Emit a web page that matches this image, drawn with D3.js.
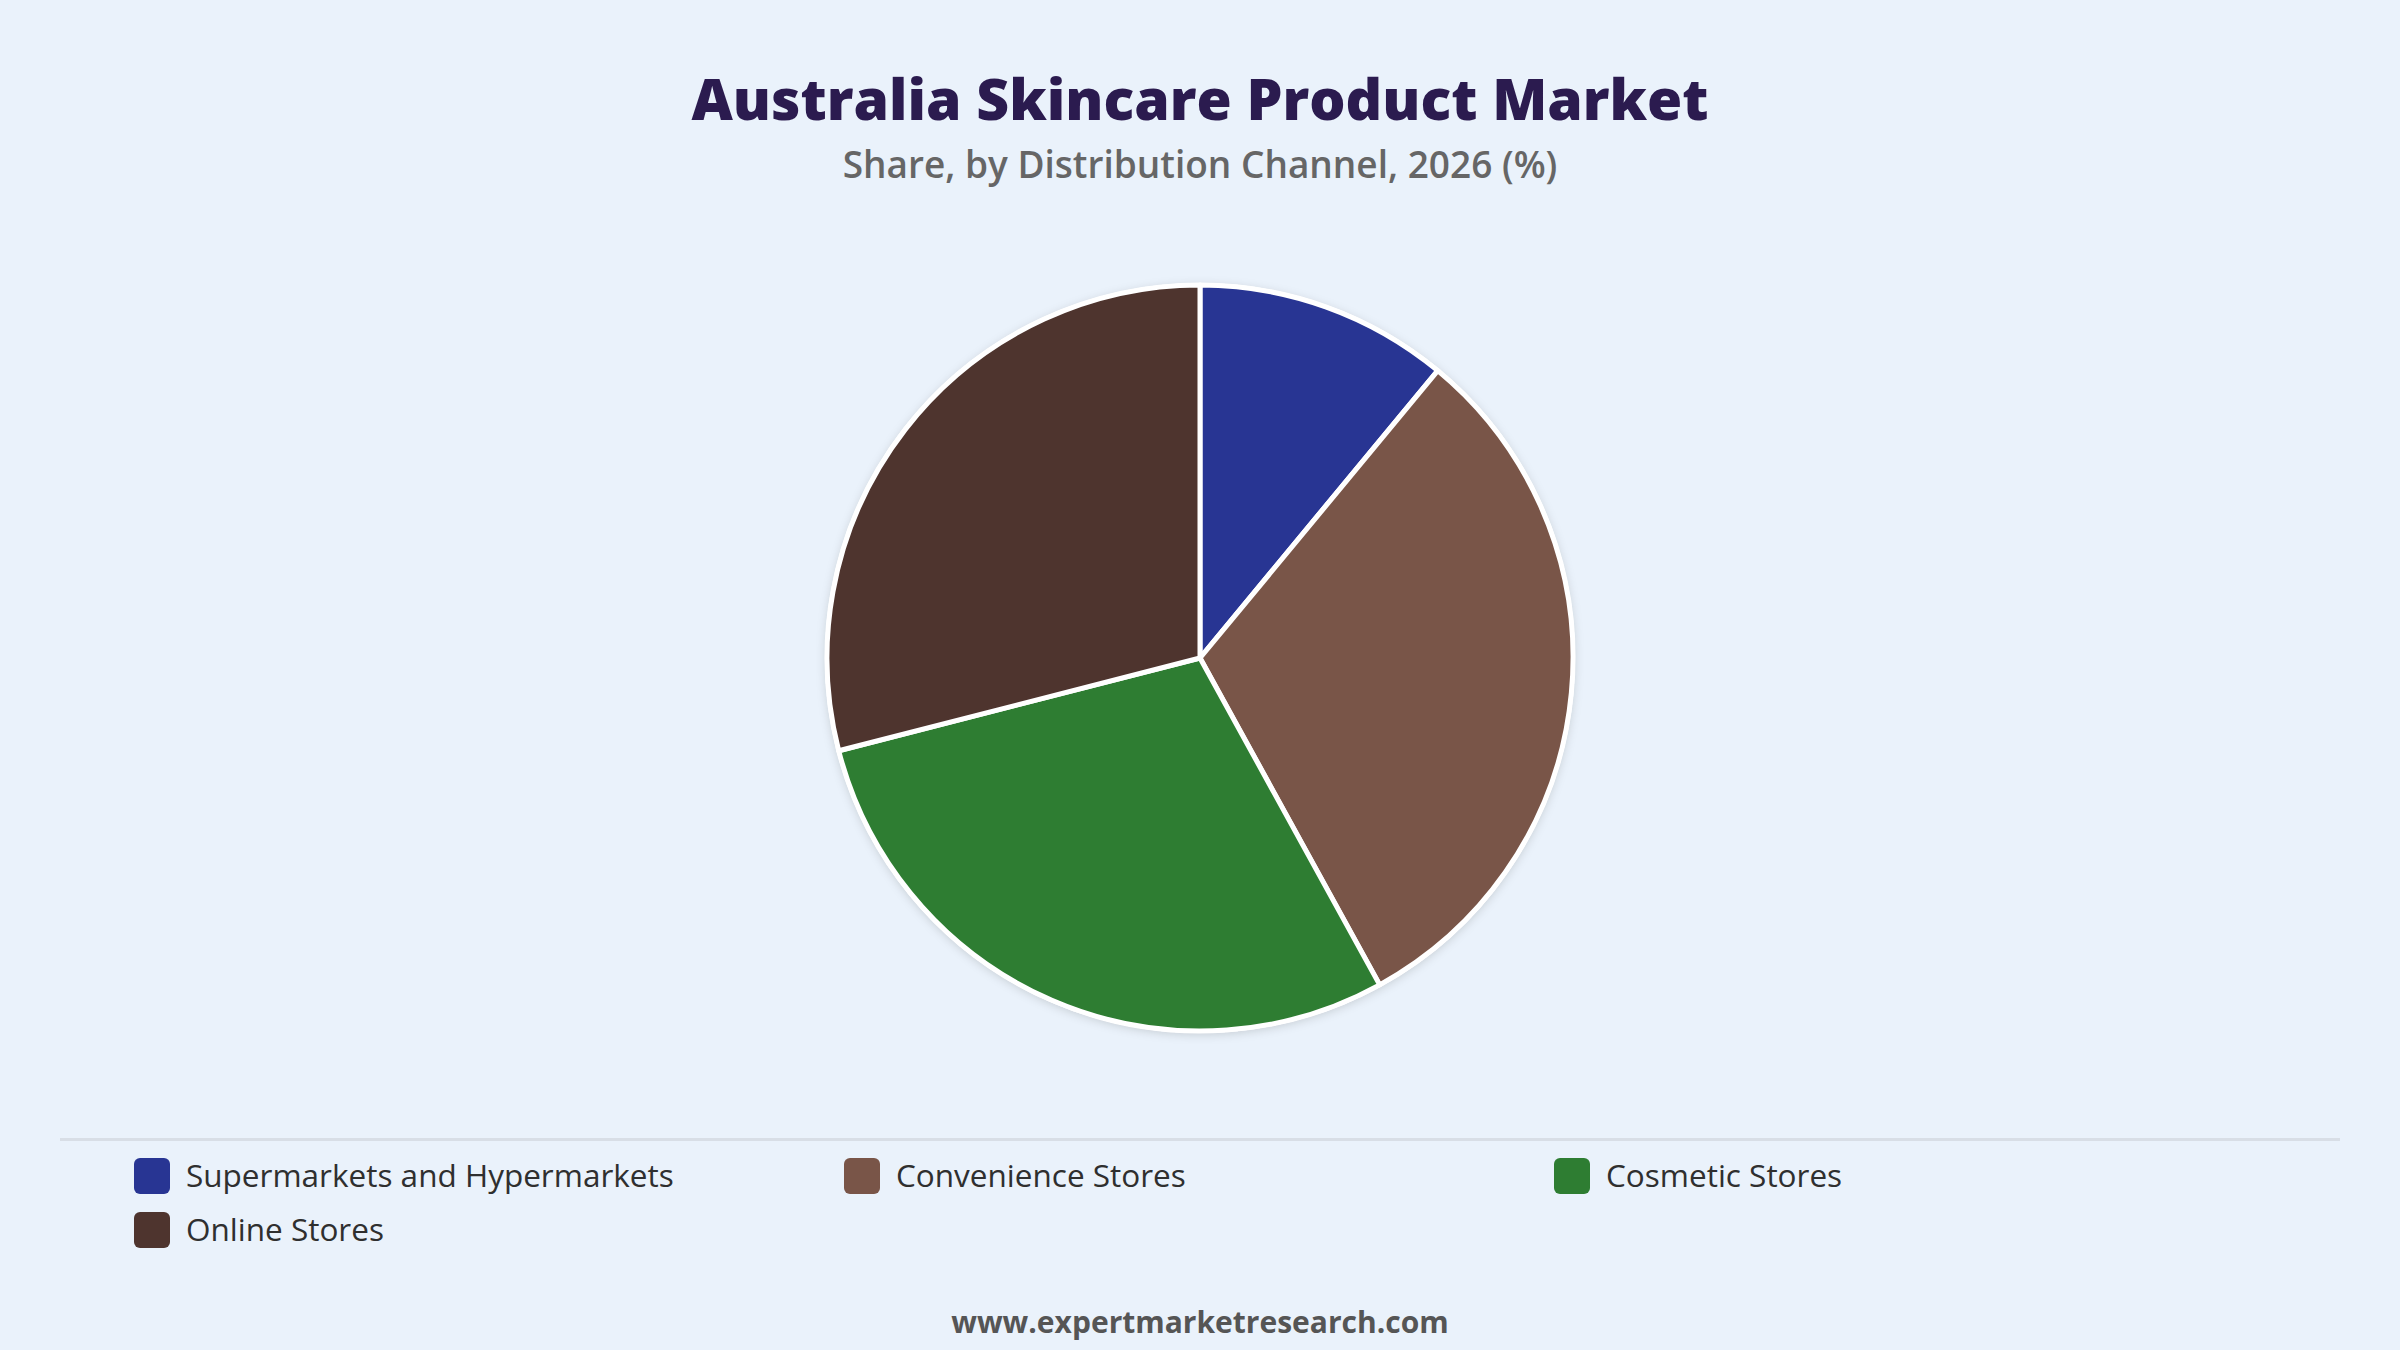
<!DOCTYPE html>
<html>
<head>
<meta charset="utf-8">
<script src="https://cdn.jsdelivr.net/npm/d3@7/dist/d3.min.js"></script>
<style>
  html, body { margin: 0; padding: 0; background: #EAF2FB; }
  svg { display: block; }
  text { font-family: "Open Sans", "Noto Sans", sans-serif; }
</style>
</head>
<body>
<svg id="chart" width="2400" height="1350"></svg>
<script>
const title = "Australia Skincare Product Market";
const subtitle = "Share, by Distribution Channel, 2026 (%)";
const footer = "www.expertmarketresearch.com";
const categories = ["Supermarkets and Hypermarkets", "Convenience Stores", "Cosmetic Stores", "Online Stores"];
const shares = [11, 31, 29, 29];
const colors = ["#283593", "#795548", "#2E7D32", "#4E342E"];

const W = 2400, H = 1350;
const svg = d3.select("#chart");

svg.append("rect").attr("width", W).attr("height", H).attr("fill", "#EAF2FB");

const defs = svg.append("defs");
const f = defs.append("filter").attr("id", "shadow").attr("x", "-20%").attr("y", "-20%").attr("width", "140%").attr("height", "140%");
f.append("feDropShadow").attr("dx", 0).attr("dy", 2).attr("stdDeviation", 5).attr("flood-color", "#000").attr("flood-opacity", 0.15);

svg.append("text").attr("x", W / 2).attr("y", 120).attr("text-anchor", "middle")
  .attr("font-size", 57).attr("font-weight", 800).attr("fill", "#2B1B4F").text(title);
svg.append("text").attr("x", W / 2).attr("y", 178).attr("text-anchor", "middle")
  .attr("font-size", 37).attr("font-weight", 600).attr("fill", "#666666").text(subtitle);

const cx = 1200, cy = 658, r = 373;
const pie = d3.pie().value(d => d).sort(null);
const arc = d3.arc().innerRadius(0).outerRadius(r);
const g = svg.append("g").attr("transform", `translate(${cx},${cy})`);
g.append("circle").attr("r", r + 2).attr("fill", "#fff").attr("filter", "url(#shadow)");
g.selectAll("path").data(pie(shares)).join("path")
  .attr("d", arc)
  .attr("fill", (d, i) => colors[i])
  .attr("stroke", "#ffffff").attr("stroke-width", 5).attr("stroke-linejoin", "round");

svg.append("line").attr("x1", 60).attr("x2", 2340).attr("y1", 1139.5).attr("y2", 1139.5)
  .attr("stroke", "#D8DEE6").attr("stroke-width", 3);

const colX = [134, 844, 1554];
const rowY = [1158, 1212];
const leg = svg.append("g");
categories.forEach((c, i) => {
  const x = colX[i % 3], y = rowY[Math.floor(i / 3)];
  leg.append("rect").attr("x", x).attr("y", y).attr("width", 36).attr("height", 36)
    .attr("rx", 6).attr("fill", colors[i]);
  leg.append("text").attr("x", x + 52).attr("y", y + 29).attr("font-size", 31.5).attr("font-weight", 500)
    .attr("fill", "#2f2f2f").text(c);
});

svg.append("text").attr("x", W / 2).attr("y", 1333).attr("text-anchor", "middle")
  .attr("font-size", 30).attr("font-weight", 700).attr("fill", "#555555").text(footer);
</script>
</body>
</html>
